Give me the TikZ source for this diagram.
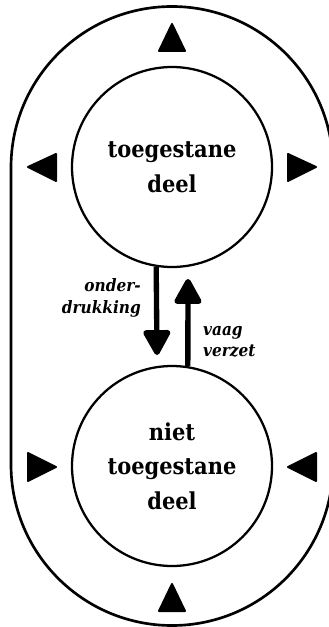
\documentclass[tikz,border=0pt]{standalone}
\usepackage{fontspec}
\setmainfont{DejaVu Serif Condensed}
\usetikzlibrary{arrows.meta}
\begin{document}
\begin{tikzpicture}[x=0.75pt,y=-0.75pt,
  line width=1.7pt,
  part/.style={circle,draw,minimum size=150pt,inner sep=0pt,align=center,
    font=\bfseries\fontsize{17.5}{26}\selectfont},
  marker/.style={fill,draw,line join=round,line width=1.5pt},
  flow/.style={line width=4pt,-{Triangle[width=22pt,length=21pt,round]}},
  note/.style={font=\bfseries\itshape\fontsize{12.8}{16}\selectfont,inner sep=0pt}]
\useasboundingbox (0,0) rectangle (328,627);

% outer boundary
\draw[line width=2pt,rounded corners=120.75pt] (11,6.5) rectangle (333,625.5);

% the two parts
\node[part] (up) at (172,167) {toegestane\\deel};
\node[part] (down) at (172,466) {niet\\toegestane\\deel};

% flows between the parts
\coordinate (dtip) at (157,355);
\coordinate (utip) at (188,279);
\draw[flow] (up.261) -- (dtip);
\draw[flow] (down.81) -- (utip);
\node[note,align=right,anchor=east] (l1) at (142,298) {onder-\\drukking};
\node[note,align=left,anchor=west] (l2) at (202,342) {vaag\\verzet};

% pressure markers around the upper part
\filldraw[marker] (172,24) -- (185,51) -- (159,51) -- cycle;
\filldraw[marker] (28,167) -- (56,154) -- (56,181) -- cycle;
\filldraw[marker] (316,167) -- (288,154) -- (288,181) -- cycle;

% pressure markers around the lower part
\filldraw[marker] (56,467) -- (28,453) -- (28,481) -- cycle;
\filldraw[marker] (288,467) -- (316,453) -- (316,481) -- cycle;
\filldraw[marker] (172,584) -- (185,611) -- (159,611) -- cycle;
\end{tikzpicture}
\end{document}
